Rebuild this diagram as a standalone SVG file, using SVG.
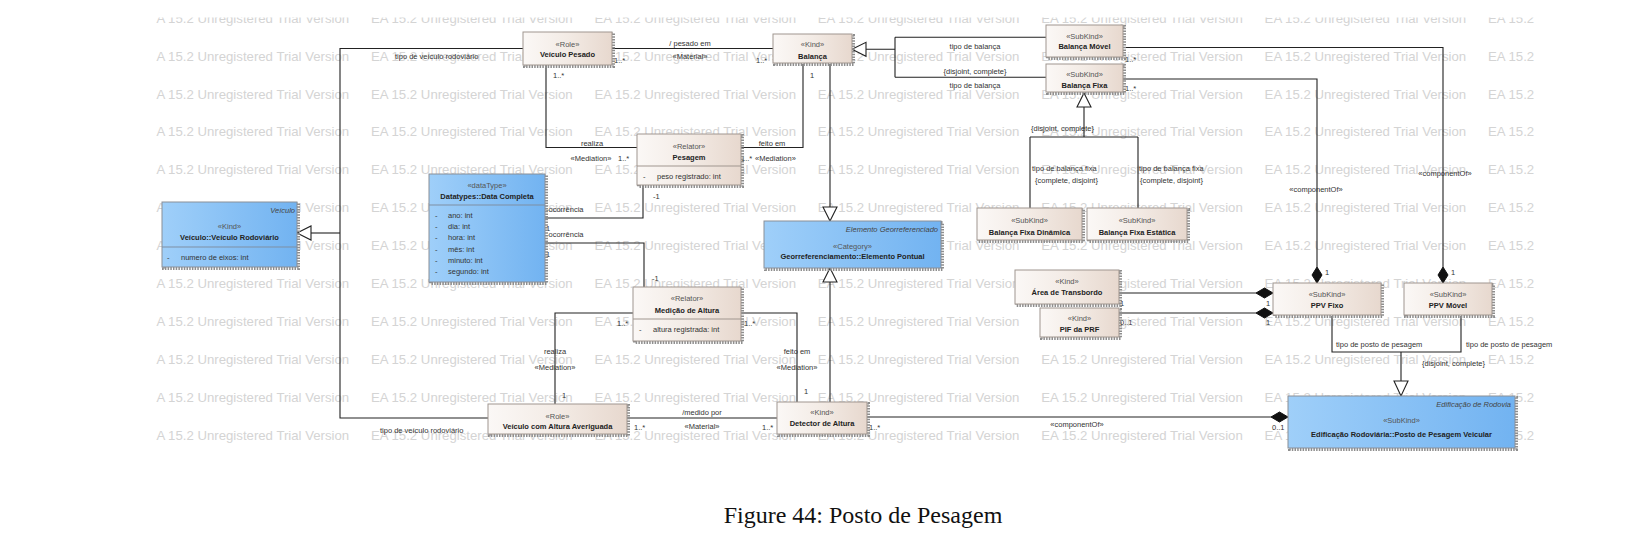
<svg xmlns="http://www.w3.org/2000/svg" width="1652" height="552" viewBox="0 0 1652 552">
<style>
.wm{font-family:"Liberation Sans",Arial,sans-serif;font-size:13.2px;fill:#d4d4d4}
.t{font-family:"Liberation Sans",Arial,sans-serif;font-size:7.5px;fill:#333}
.st{font-family:"Liberation Sans",Arial,sans-serif;font-size:7.5px;fill:#555}
.b{font-family:"Liberation Sans",Arial,sans-serif;font-size:7.5px;font-weight:bold;fill:#222}
.it{font-family:"Liberation Sans",Arial,sans-serif;font-size:7.5px;font-style:italic;fill:#444}
.c{text-anchor:middle}
.e{text-anchor:end}
.cap{font-family:"Liberation Serif","Times New Roman",serif;font-size:24px;fill:#111;text-anchor:middle}
.n{fill:url(#beige);stroke:#a0968f;stroke-width:1}
.nb{fill:url(#blue);stroke:#8a8f98;stroke-width:1}
.sh{fill:none;stroke:#8e8e8e;stroke-width:3;stroke-dasharray:1.5 1.2}
.sep{stroke:#a0968f;stroke-width:1}
.sepb{stroke:#7f8fa3;stroke-width:1}
.ln{fill:none;stroke:#222;stroke-width:1.1}
.tri{fill:#fff;stroke:#222;stroke-width:1.1}
.dia{fill:#111;stroke:#111;stroke-width:1}
</style>
<defs>
<linearGradient id="beige" x1="0" y1="0" x2="1" y2="0">
<stop offset="0" stop-color="#fbf8f6"/><stop offset="0.5" stop-color="#f3ebe5"/><stop offset="1" stop-color="#e7d8ce"/>
</linearGradient>
<linearGradient id="blue" x1="0" y1="0" x2="1" y2="0">
<stop offset="0" stop-color="#9fcff9"/><stop offset="1" stop-color="#72b3f1"/>
</linearGradient>
<clipPath id="wmclip"><rect x="156" y="17.5" width="1382" height="430"/></clipPath>
<g id="wr">
<text class="wm" x="147.6" y="0">EA 15.2 Unregistered Trial Version</text>
<text class="wm" x="371" y="0">EA 15.2 Unregistered Trial Version</text>
<text class="wm" x="594.4" y="0">EA 15.2 Unregistered Trial Version</text>
<text class="wm" x="817.8" y="0">EA 15.2 Unregistered Trial Version</text>
<text class="wm" x="1041.2" y="0">EA 15.2 Unregistered Trial Version</text>
<text class="wm" x="1264.6" y="0">EA 15.2 Unregistered Trial Version</text>
<text class="wm" x="1488" y="0">EA 15.2 Unregistered Trial Version</text>
</g>
</defs>
<rect width="1652" height="552" fill="#fff"/>
<g id="watermark" clip-path="url(#wmclip)">
<use href="#wr" y="22.6"/><use href="#wr" y="60.5"/><use href="#wr" y="98.5"/><use href="#wr" y="136.4"/>
<use href="#wr" y="174.3"/><use href="#wr" y="212.2"/><use href="#wr" y="250.2"/><use href="#wr" y="288.1"/>
<use href="#wr" y="326"/><use href="#wr" y="363.9"/><use href="#wr" y="401.9"/><use href="#wr" y="439.8"/>
</g>

<g id="connectors">
<path class="ln" d="M523,48.5 H340 V418 H488"/>
<path class="ln" d="M340,233 H311"/>
<polygon class="tri" points="297,233 311,226 311,240"/>
<text class="t" x="395" y="58.5">tipo de veículo rodoviário</text>
<text class="t" x="380" y="433">tipo de veículo rodoviário</text>
<path class="ln" d="M612,48.5 H773"/>
<text class="t c" x="690" y="46">/ pesado em</text>
<text class="t c" x="690" y="58.5">«Material»</text>
<text class="t" x="614" y="62.5">1..*</text>
<text class="t" x="756" y="62.5">1..*</text>
<path class="ln" d="M546,65 V147.5 H637"/>
<text class="t" x="553" y="78">1..*</text>
<text class="t c" x="592" y="145.5">realiza</text>
<text class="t c" x="591" y="160.5">«Mediation»</text>
<text class="t" x="618" y="160.5">1..*</text>
<path class="ln" d="M741,147.5 H803 V64"/>
<text class="t c" x="772" y="145.5">feito em</text>
<text class="t" x="755" y="160.5">«Mediation»</text>
<text class="t" x="741" y="160.5">1..*</text>
<text class="t" x="810" y="77.5">1</text>
<path class="ln" d="M830,64 V207"/>
<polygon class="tri" points="830,221 823,207 837,207"/>
<path class="ln" d="M830,402 V282"/>
<polygon class="tri" points="830,268 823,282 837,282"/>
<path class="ln" d="M545,218 H643 V185"/>
<text class="t" x="546" y="212">-ocorrência</text>
<text class="t" x="546" y="231">1</text>
<text class="t" x="653" y="198.7">-1</text>
<path class="ln" d="M545,243 H644 V287"/>
<text class="t" x="546" y="236.7">-ocorrência</text>
<text class="t" x="546" y="257">1</text>
<text class="t" x="652" y="281">-1</text>
<path class="ln" d="M633,313 H555 V404"/>
<text class="t" x="617" y="326">1..*</text>
<text class="t c" x="555" y="354.4">realiza</text>
<text class="t c" x="555" y="370">«Mediation»</text>
<text class="t" x="562" y="397.7">1</text>
<path class="ln" d="M741,313 H797 V402"/>
<text class="t" x="744" y="326">1..*</text>
<text class="t c" x="797" y="354.4">feito em</text>
<text class="t c" x="797" y="370">«Mediation»</text>
<text class="t" x="804" y="394.4">1</text>
<path class="ln" d="M627,418 H777"/>
<text class="t c" x="702" y="415">/medido por</text>
<text class="t c" x="702" y="429.4">«Material»</text>
<text class="t" x="634" y="430.4">1..*</text>
<text class="t" x="762" y="430.4">1..*</text>
<path class="ln" d="M867,417 H1271"/>
<polygon class="dia" points="1288,417 1279.5,412 1271,417 1279.5,422"/>
<text class="t" x="869" y="430">1..*</text>
<text class="t c" x="1077" y="427">«componentOf»</text>
<text class="t" x="1272" y="430">0..1</text>
<polygon class="tri" points="852,49.3 866,42.3 866,56.3"/>
<path class="ln" d="M866,49.3 H895 M895,37.3 V77.3 M895,37.3 H1046 M895,77.3 H1046"/>
<text class="t c" x="975" y="49">tipo de balança</text>
<text class="t c" x="975" y="74.4">{disjoint, complete}</text>
<text class="t c" x="975" y="88.4">tipo de balança</text>
<path class="ln" d="M1123,47.5 H1443 V267"/>
<polygon class="dia" points="1443,283 1438,275 1443,267 1448,275"/>
<text class="t" x="1125" y="61.5">1..*</text>
<text class="t c" x="1445" y="175.5">«componentOf»</text>
<text class="t" x="1451" y="274.5">1</text>
<path class="ln" d="M1123,79 H1317 V267"/>
<polygon class="dia" points="1317,283 1312,275 1317,267 1322,275"/>
<text class="t" x="1125" y="91">1..*</text>
<text class="t c" x="1316" y="192.3">«componentOf»</text>
<text class="t" x="1325" y="274.5">1</text>
<polygon class="tri" points="1084,93 1077,107 1091,107"/>
<path class="ln" d="M1084,107 V137 M1030,137 H1138 M1030,137 V208 M1138,137 V208"/>
<text class="t" x="1031" y="131">{disjoint, complete}</text>
<text class="t" x="1032" y="171">tipo de balança fixa</text>
<text class="t" x="1035" y="183">{complete, disjoint}</text>
<text class="t" x="1139" y="171">tipo de balança fixa</text>
<text class="t" x="1140" y="183">{complete, disjoint}</text>
<path class="ln" d="M1119,293 H1256"/>
<polygon class="dia" points="1273,293 1264.5,288 1256,293 1264.5,298"/>
<text class="t" x="1120" y="306">1</text>
<text class="t" x="1266" y="306">1</text>
<path class="ln" d="M1119,313 H1256"/>
<polygon class="dia" points="1273,313 1264.5,308 1256,313 1264.5,318"/>
<text class="t" x="1120" y="325">0..1</text>
<text class="t" x="1266" y="325">1</text>
<path class="ln" d="M1332,316 V352 H1461 V316 M1401,352 V381"/>
<polygon class="tri" points="1401,396 1394,381 1408,381"/>
<text class="t" x="1336" y="347">tipo de posto de pesagem</text>
<text class="t" x="1466" y="347">tipo de posto de pesagem</text>
<text class="t" x="1422" y="366">{disjoint, complete}</text>
</g>

<g id="veiculo-pesado">
<rect class="sh" x="524.5" y="33.5" width="89" height="33"/>
<rect class="n" x="523" y="32" width="89" height="33"/>
<text class="st c" x="567.5" y="46.5">«Role»</text>
<text class="b c" x="567.5" y="57">Veículo Pesado</text>
</g>
<g id="balanca">
<rect class="sh" x="774.5" y="35.5" width="79" height="29"/>
<rect class="n" x="773" y="34" width="79" height="29"/>
<text class="st c" x="812.5" y="47">«Kind»</text>
<text class="b c" x="812.5" y="58.5">Balança</text>
</g>
<g id="balanca-movel">
<rect class="sh" x="1047.5" y="26.5" width="77" height="32"/>
<rect class="n" x="1046" y="25" width="77" height="32"/>
<text class="st c" x="1084.5" y="38.5">«SubKind»</text>
<text class="b c" x="1084.5" y="49">Balança Móvel</text>
</g>
<g id="balanca-fixa">
<rect class="sh" x="1047.5" y="65.5" width="77" height="28"/>
<rect class="n" x="1046" y="64" width="77" height="28"/>
<text class="st c" x="1084.5" y="77">«SubKind»</text>
<text class="b c" x="1084.5" y="88.4">Balança Fixa</text>
</g>
<g id="pesagem">
<rect class="sh" x="638.5" y="135.5" width="104" height="51"/>
<rect class="n" x="637" y="134" width="104" height="51"/>
<line class="sep" x1="637" y1="166" x2="741" y2="166"/>
<text class="st c" x="689" y="149.4">«Relator»</text>
<text class="b c" x="689" y="160">Pesagem</text>
<text class="t" x="643" y="178.7">-</text>
<text class="t" x="657" y="178.7">peso registrado: int</text>
</g>
<g id="data-completa">
<rect class="sh" x="430.5" y="175.5" width="116" height="108"/>
<rect class="nb" x="429" y="174" width="116" height="108"/>
<line class="sepb" x1="429" y1="205" x2="545" y2="205"/>
<text class="st c" x="487" y="187.7">«dataType»</text>
<text class="b c" x="487" y="198.7">Datatypes::Data Completa</text>
<text class="t" x="435" y="217.7">-</text><text class="t" x="448" y="217.7">ano: int</text>
<text class="t" x="435" y="229">-</text><text class="t" x="448" y="229">dia: int</text>
<text class="t" x="435" y="240.3">-</text><text class="t" x="448" y="240.3">hora: int</text>
<text class="t" x="435" y="251.6">-</text><text class="t" x="448" y="251.6">mês: int</text>
<text class="t" x="435" y="262.9">-</text><text class="t" x="448" y="262.9">minuto: int</text>
<text class="t" x="435" y="274.2">-</text><text class="t" x="448" y="274.2">segundo: int</text>
</g>
<g id="veiculo-rodoviario">
<rect class="sh" x="163.5" y="203.5" width="135" height="65"/>
<rect class="nb" x="162" y="202" width="135" height="65"/>
<line class="sepb" x1="162" y1="247" x2="297" y2="247"/>
<text class="it e" x="295" y="212.5">Veículo</text>
<text class="st c" x="229.5" y="229.4">«Kind»</text>
<text class="b c" x="229.5" y="240.4">Veículo::Veículo Rodoviário</text>
<text class="t" x="167" y="259.7">-</text>
<text class="t" x="181" y="259.7">numero de eixos: int</text>
</g>
<g id="elemento-pontual">
<rect class="sh" x="765.5" y="222.5" width="177" height="47"/>
<rect class="nb" x="764" y="221" width="177" height="47"/>
<text class="it e" x="938" y="231.7">Elemento Georreferenciado</text>
<text class="st c" x="852.5" y="248.7">«Category»</text>
<text class="b c" x="852.5" y="259.4">Georreferenciamento::Elemento Pontual</text>
</g>
<g id="medicao-altura">
<rect class="sh" x="634.5" y="288.5" width="108" height="54"/>
<rect class="n" x="633" y="287" width="108" height="54"/>
<line class="sep" x1="633" y1="319" x2="741" y2="319"/>
<text class="st c" x="687" y="301">«Relator»</text>
<text class="b c" x="687" y="312.7">Medição de Altura</text>
<text class="t" x="639" y="332">-</text>
<text class="t" x="653" y="332">altura registrada: int</text>
</g>
<g id="detector-altura">
<rect class="sh" x="778.5" y="403.5" width="90" height="32"/>
<rect class="n" x="777" y="402" width="90" height="32"/>
<text class="st c" x="822" y="415.4">«Kind»</text>
<text class="b c" x="822" y="426">Detector de Altura</text>
</g>
<g id="veiculo-altura">
<rect class="sh" x="489.5" y="405.5" width="139" height="30"/>
<rect class="n" x="488" y="404" width="139" height="30"/>
<text class="st c" x="557.5" y="418.7">«Role»</text>
<text class="b c" x="557.5" y="429.4">Veículo com Altura Averiguada</text>
</g>
<g id="edificacao">
<rect class="sh" x="1289.5" y="397.5" width="227" height="52"/>
<rect class="nb" x="1288" y="396" width="227" height="52"/>
<text class="it e" x="1511" y="406.5">Edificação de Rodovia</text>
<text class="st c" x="1401.5" y="422.7">«SubKind»</text>
<text class="b c" x="1401.5" y="436.7">Edificação Rodoviária::Posto de Pesagem Veicular</text>
</g>
<g id="area-transbordo">
<rect class="sh" x="1016.5" y="271.5" width="104" height="34"/>
<rect class="n" x="1015" y="270" width="104" height="34"/>
<text class="st c" x="1067" y="283.5">«Kind»</text>
<text class="b c" x="1067" y="294.5">Área de Transbordo</text>
</g>
<g id="pif-prf">
<rect class="sh" x="1041.5" y="309.5" width="79" height="29"/>
<rect class="n" x="1040" y="308" width="79" height="29"/>
<text class="st c" x="1079.5" y="321">«Kind»</text>
<text class="b c" x="1079.5" y="332">PIF da PRF</text>
</g>
<g id="ppv-fixo">
<rect class="sh" x="1274.5" y="284.5" width="108" height="32"/>
<rect class="n" x="1273" y="283" width="108" height="32"/>
<text class="st c" x="1327" y="296.5">«SubKind»</text>
<text class="b c" x="1327" y="307.5">PPV Fixo</text>
</g>
<g id="ppv-movel">
<rect class="sh" x="1405.5" y="284.5" width="88" height="32"/>
<rect class="n" x="1404" y="283" width="88" height="32"/>
<text class="st c" x="1448" y="296.5">«SubKind»</text>
<text class="b c" x="1448" y="307.5">PPV Móvel</text>
</g>
<g id="balanca-fixa-dinamica">
<rect class="sh" x="978.5" y="209.5" width="105" height="32"/>
<rect class="n" x="977" y="208" width="105" height="32"/>
<text class="st c" x="1029.5" y="223">«SubKind»</text>
<text class="b c" x="1029.5" y="234.5">Balança Fixa Dinâmica</text>
</g>
<g id="balanca-fixa-estatica">
<rect class="sh" x="1088.5" y="209.5" width="100" height="32"/>
<rect class="n" x="1087" y="208" width="100" height="32"/>
<text class="st c" x="1137" y="223">«SubKind»</text>
<text class="b c" x="1137" y="234.5">Balança Fixa Estática</text>
</g>
<text class="cap" x="863" y="522.5">Figure 44: Posto de Pesagem</text>
</svg>
